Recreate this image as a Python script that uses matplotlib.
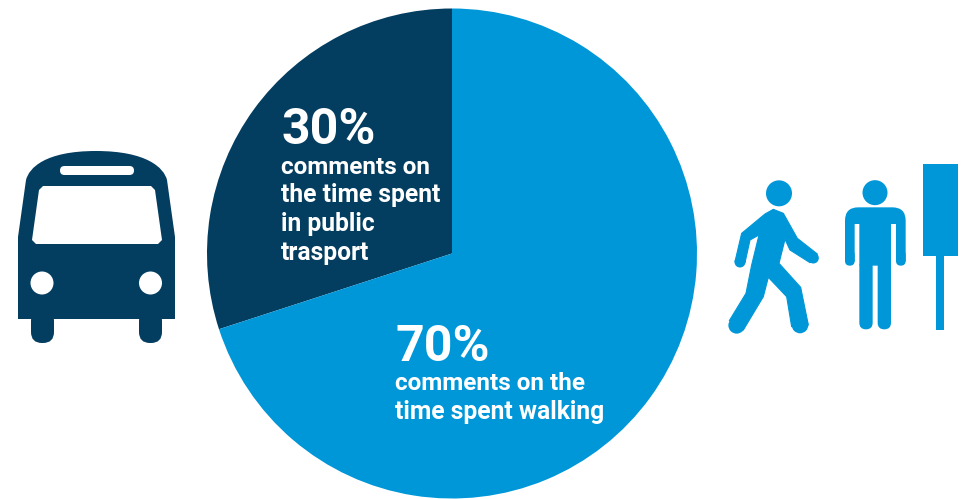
import matplotlib
matplotlib.use("Agg")
import matplotlib.pyplot as plt
from matplotlib.patches import Circle, FancyBboxPatch, PathPatch, Polygon, Rectangle
from matplotlib.path import Path

# values
labels = ["comments on\nthe time spent\nin public\ntrasport", "comments on the\ntime spent walking"]
shares = [30, 70]
share_text = ["30%", "70%"]

navy = "#033d60"
blue = "#0097d9"

fig = plt.figure(figsize=(9.72, 4.99), dpi=100)
ax = fig.add_axes([0, 0, 1, 1])

# y axis gets flipped below, so the pie runs clockwise in data terms
ax.pie(shares, colors=[navy, blue], startangle=-90, counterclock=False,
       center=(452, 253.5), radius=245, frame=True,
       wedgeprops={"linewidth": 0})
ax.set_xlim(0, 972)
ax.set_ylim(499, 0)
ax.set_aspect("auto")
ax.axis("off")


def rrect(x0, y0, x1, y1, r, color, z=3):
    ax.add_patch(FancyBboxPatch((x0 + r, y0 + r), x1 - x0 - 2 * r, y1 - y0 - 2 * r,
                                boxstyle="round,pad=%f,rounding_size=%f" % (r, r),
                                fc=color, ec="none", zorder=z))


# bus
bus_verts = [(18, 319), (18, 237), (26, 180),
             (29, 168), (45, 151), (96, 151),
             (147, 151), (164, 168), (167, 180),
             (175, 237), (175, 319), (18, 319)]
bus_codes = [Path.MOVETO, Path.LINETO, Path.LINETO,
             Path.CURVE4, Path.CURVE4, Path.CURVE4,
             Path.CURVE4, Path.CURVE4, Path.CURVE4,
             Path.LINETO, Path.LINETO, Path.CLOSEPOLY]
ax.add_patch(PathPatch(Path(bus_verts, bus_codes), fc=navy, ec="none", zorder=3))
rrect(31, 310, 54, 343, 11, navy)
rrect(139, 310, 162, 343, 11, navy)
window = [(32, 240), (39, 190), (43, 186), (151, 186), (155, 190), (162, 240), (158, 244), (36, 244)]
ax.add_patch(Polygon(window, fc="white", ec="none", zorder=4))
rrect(60, 166, 134, 175, 4.5, "white", 4)
ax.add_patch(Circle((42, 283), 11.5, fc="white", ec="none", zorder=4))
ax.add_patch(Circle((150.5, 283), 11.5, fc="white", ec="none", zorder=4))


# people and stop, traced in zoomed crop coordinates
def z(p):
    return (710 + p[0] / 3, 150 + p[1] / 3)


walker = [(75, 335), (95, 250), (165, 192), (190, 178), (220, 190), (262, 265), (322, 312), (300, 338),
          (240, 300), (225, 268), (207, 340), (272, 412), (295, 525), (245, 530),
          (230, 440), (175, 382), (160, 440), (100, 540), (58, 512),
          (108, 430), (125, 345), (147, 255), (120, 270), (105, 338)]
ax.add_patch(Circle(z((207, 130)), 13, fc=blue, ec="none", zorder=3))
ax.add_patch(Polygon([z(p) for p in walker], fc=blue, ec=blue, lw=0.8, joinstyle="round", zorder=3))
# rounded hands and feet
for end, r in [((90, 336), 5.5), ((310, 324), 5.5), ((270, 525), 8.3), ((80, 526), 8.3)]:
    ax.add_patch(Circle(z(end), r, fc=blue, ec="none", zorder=3))

ax.add_patch(Circle(z((495, 128)), 12.5, fc=blue, ec="none", zorder=3))
man_verts = [(405, 335), (405, 212), (405, 172), (445, 172), (547, 172), (587, 172), (587, 212), (587, 335),
             (558, 335), (558, 222), (543, 222), (543, 347), (448, 347), (448, 222), (434, 222), (434, 335), (405, 335)]
man_codes = [Path.MOVETO, Path.LINETO, Path.CURVE3, Path.CURVE3, Path.LINETO, Path.CURVE3, Path.CURVE3, Path.LINETO,
             Path.LINETO, Path.LINETO, Path.LINETO, Path.LINETO, Path.LINETO, Path.LINETO, Path.LINETO, Path.LINETO,
             Path.CLOSEPOLY]
ax.add_patch(PathPatch(Path([z(p) for p in man_verts], man_codes), fc=blue, ec="none", zorder=3))
rrect(*z((405, 300)), *z((434, 347)), 4.8, blue)
rrect(*z((558, 300)), *z((587, 347)), 4.8, blue)
rrect(*z((448, 330)), *z((488, 538)), 6.6, blue)
rrect(*z((503, 330)), *z((543, 538)), 6.6, blue)

ax.add_patch(Rectangle(z((638, 42)), 35, 91.5, fc=blue, ec="none", zorder=3))
ax.add_patch(Rectangle(z((677, 316)), 8.7, 75, fc=blue, ec="none", zorder=3))

# text
font = "Roboto"
left_lines = labels[0].split("\n")
right_lines = labels[1].split("\n")
ax.text(281, 143.5, share_text[0], color="white", family=font, weight="bold", fontsize=36, zorder=5)
ax.text(281, 174, left_lines[0], color="white", family=font, weight="bold", fontsize=17.5, zorder=5)
ax.text(281, 202, left_lines[1], color="white", family=font, weight="bold", fontsize=17.7, zorder=5)
ax.text(281, 231, left_lines[2], color="white", family=font, weight="bold", fontsize=17.7, zorder=5)
ax.text(281, 260, left_lines[3], color="white", family=font, weight="bold", fontsize=17.7, zorder=5)
ax.text(395, 361, share_text[1], color="white", family=font, weight="bold", fontsize=36, zorder=5)
ax.text(395, 390, right_lines[0], color="white", family=font, weight="bold", fontsize=17.5, zorder=5)
ax.text(395, 419, right_lines[1], color="white", family=font, weight="bold", fontsize=17.7, zorder=5)

fig.savefig("out.png", dpi=100)
